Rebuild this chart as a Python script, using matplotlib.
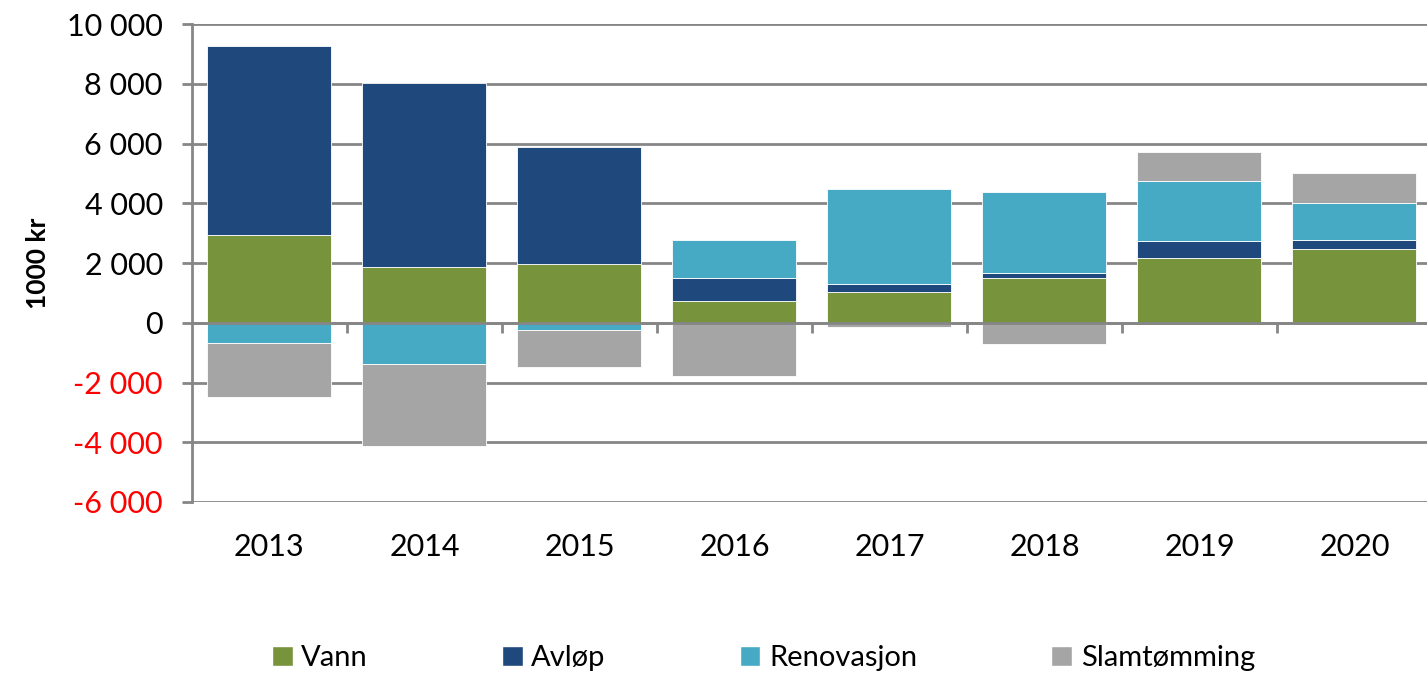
import matplotlib.pyplot as plt
import matplotlib.patches as patches
import numpy as np

plt.rcParams['font.family'] = ['Lato', 'DejaVu Sans']

years = ['2013', '2014', '2015', '2016', '2017', '2018', '2019', '2020']
series_names = ['Vann', 'Avløp', 'Renovasjon', 'Slamtømming']
vann = [2950, 1870, 1970, 740, 1040, 1500, 2180, 2480]
avlop = [6300, 6150, 3920, 770, 270, 170, 570, 300]
renovasjon = [-670, -1370, -240, 1270, 3180, 2710, 2010, 1240]
slam = [-1800, -2740, -1240, -1770, -130, -700, 970, 1000]
colors = ['#77933C', '#1F497D', '#46AAC4', '#A5A5A5']
y_ticks = [-6000, -4000, -2000, 0, 2000, 4000, 6000, 8000, 10000]

fig = plt.figure(figsize=(14.27, 6.75), dpi=100)
ax = fig.add_axes([0.1345, 0.2563, 0.8690, 0.7081])

x = np.arange(len(years))
pos_base = np.zeros(len(years))
neg_base = np.zeros(len(years))
handles = []
for name, vals, col in zip(series_names, [vann, avlop, renovasjon, slam], colors):
    vals = np.array(vals, dtype=float)
    bottoms = np.where(vals >= 0, pos_base, neg_base)
    ax.bar(x, vals, width=0.8, bottom=bottoms, color=col, edgecolor='white',
           linewidth=0.6, zorder=3)
    pos_base = pos_base + np.where(vals >= 0, vals, 0)
    neg_base = neg_base + np.where(vals < 0, vals, 0)
    handles.append(patches.Patch(facecolor=col, edgecolor='white', label=name))

ax.set_xlim(-0.5, len(years) - 0.5)
ax.set_ylim(-6000, 10000)

# grid and axis lines
grid_col = '#868686'
for t in y_ticks:
    ax.axhline(t, color=grid_col, linewidth=2, zorder=1)
ax.axhline(0, color=grid_col, linewidth=2, zorder=4)
# category boundary tick marks on the zero line
ax.vlines(x[:-1] + 0.5, -330, 0, color=grid_col, linewidth=2, zorder=4)

for s in ['top', 'right', 'bottom']:
    ax.spines[s].set_visible(False)
ax.spines['left'].set_color(grid_col)
ax.spines['left'].set_linewidth(2)

ax.set_yticks(y_ticks)
ax.set_yticklabels([f"{t:,}".replace(',', ' ') for t in y_ticks], fontsize=22)
for lbl, t in zip(ax.get_yticklabels(), y_ticks):
    if t < 0:
        lbl.set_color('#FF0000')
ax.tick_params(axis='y', length=7, width=2, color=grid_col, pad=14)

ax.set_xticks(x)
ax.set_xticklabels(years, fontsize=22)
ax.tick_params(axis='x', length=0, pad=22)

ax.set_ylabel('1000 kr', fontsize=19, fontweight='bold', labelpad=12)

fig.legend(handles=handles, loc='center', bbox_to_anchor=(0.535, 0.025), ncol=4,
           frameon=False, fontsize=21, handlelength=0.7, handleheight=0.7,
           handletextpad=0.3, columnspacing=4.6)

fig.savefig('out.png', dpi=100)
